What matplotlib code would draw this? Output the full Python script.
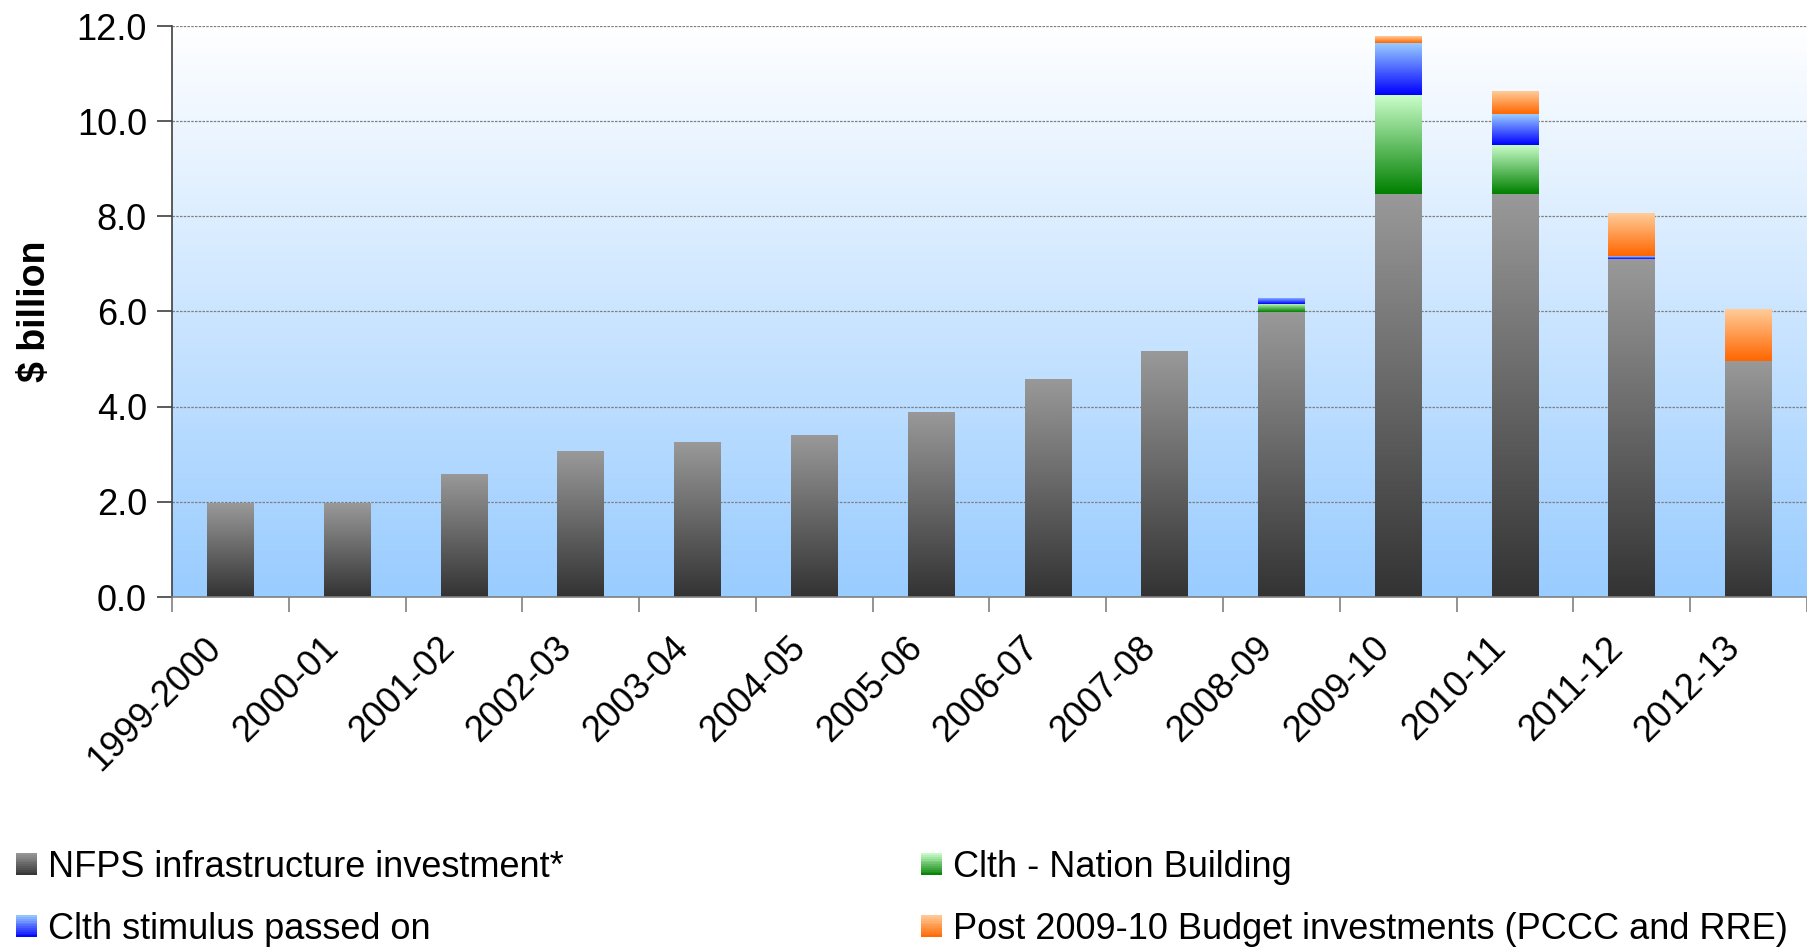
import numpy as np
import matplotlib
matplotlib.use("Agg")
import matplotlib.pyplot as plt
from matplotlib.colors import LinearSegmentedColormap, to_rgb
from matplotlib.patches import Rectangle
from matplotlib.legend_handler import HandlerBase
from matplotlib.transforms import ScaledTranslation

plt.rcParams['font.family'] = ['Liberation Sans', 'DejaVu Sans']

years = ["1999-2000", "2000-01", "2001-02", "2002-03", "2003-04", "2004-05",
         "2005-06", "2006-07", "2007-08", "2008-09", "2009-10", "2010-11",
         "2011-12", "2012-13"]
nfps = [1.97, 1.97, 2.59, 3.06, 3.25, 3.41, 3.89, 4.59, 5.17, 5.98, 8.47, 8.47, 7.10, 4.97]
nation_building = [0, 0, 0, 0, 0, 0, 0, 0, 0, 0.18, 2.09, 1.03, 0, 0]
stimulus = [0, 0, 0, 0, 0, 0, 0, 0, 0, 0.13, 1.08, 0.65, 0.06, 0]
post_budget = [0, 0, 0, 0, 0, 0, 0, 0, 0, 0, 0.14, 0.48, 0.90, 1.09]

series = [
    ("NFPS infrastructure investment*", nfps, "#999999", "#333333"),
    ("Clth - Nation Building", nation_building, "#ccffcc", "#008000"),
    ("Clth stimulus passed on", stimulus, "#99ccff", "#0000ff"),
    ("Post 2009-10 Budget investments (PCCC and RRE)", post_budget, "#ffcc99", "#ff6600"),
]

FS = 26
W, H = 1807, 947
fig = plt.figure(figsize=(W / 100, H / 100), dpi=100)
ax = fig.add_axes([172 / W, 1 - 597 / H, 1 - 172 / W, (597 - 26) / H])

# background gradient, white at top to light blue at bottom
bg = LinearSegmentedColormap.from_list("bg", ["#99ccff", "#ffffff"])
ax.imshow(np.linspace(0, 1, 256).reshape(-1, 1), cmap=bg, origin="lower",
          extent=(0, 1, 0, 1), transform=ax.transAxes, aspect="auto", zorder=0)

x = np.arange(len(years))
bottom = np.zeros(len(years))
for name, vals, top_c, bot_c in series:
    vals = np.array(vals, dtype=float)
    bars = ax.bar(x, vals, 0.4, bottom=bottom, color="none", linewidth=0, zorder=3)
    cm = LinearSegmentedColormap.from_list(name, [bot_c, top_c])
    for p, v in zip(bars.patches, vals):
        if v <= 0:
            continue
        im = ax.imshow(np.linspace(0, 1, 128).reshape(-1, 1), cmap=cm, origin="lower",
                       extent=(p.get_x(), p.get_x() + p.get_width(),
                               p.get_y(), p.get_y() + p.get_height()),
                       aspect="auto", zorder=3, interpolation="bilinear")
        im.set_clip_path(p)
    bottom += vals

ax.set_xlim(-0.5, len(years) - 0.5)
ax.set_ylim(0, 12)
ax.set_yticks(np.arange(0, 12.1, 2))
ax.set_yticklabels([f"{v:.1f}" for v in np.arange(0, 12.1, 2)])
ax.yaxis.grid(True, color="#7f7f7f", linestyle=(0, (2, 1)), linewidth=0.9, zorder=1)
ax.set_axisbelow(True)

ax.set_xticks(np.arange(len(years) + 1) - 0.5)
ax.set_xticklabels([])
ax.set_xticks(x, years, minor=True)
ax.tick_params(axis="x", which="major", length=11, width=1.2, color="#808080")
ax.tick_params(axis="x", which="minor", length=0, pad=24, labelsize=FS)
ax.tick_params(axis="y", length=11, width=1.2, color="#404040", pad=7, labelsize=FS)
off = ScaledTranslation(-2 / 100, 0, fig.dpi_scale_trans)
for lab in ax.get_xticklabels(minor=True):
    lab.set_rotation(45)
    lab.set_ha("right")
    lab.set_va("top")
    lab.set_transform(lab.get_transform() + off)

for s in ["top", "right"]:
    ax.spines[s].set_visible(False)
ax.spines["left"].set_color("#404040")
ax.spines["left"].set_linewidth(1.2)
ax.spines["bottom"].set_color("#808080")
ax.spines["bottom"].set_linewidth(1.2)
ax.spines["left"].set_zorder(5)
ax.spines["bottom"].set_zorder(5)

ax.set_ylabel("$ billion", fontsize=27, fontweight="bold")
ax.yaxis.set_label_coords((53 - 172) / (W - 172), 0.5)


class GradientHandler(HandlerBase):
    def __init__(self, top_c, bot_c):
        super().__init__()
        self.top_c = np.array(to_rgb(top_c))
        self.bot_c = np.array(to_rgb(bot_c))

    def create_artists(self, legend, orig_handle, xdescent, ydescent, width,
                       height, fontsize, trans):
        n = 12
        arts = []
        for i in range(n):
            t = (i + 0.5) / n
            c = self.bot_c + (self.top_c - self.bot_c) * t
            r = Rectangle((-xdescent, -ydescent + height * i / n), width, height / n + 0.01,
                          facecolor=c, edgecolor="none", transform=trans)
            arts.append(r)
        return arts


handles = [Rectangle((0, 0), 1, 1) for _ in series]
hmap = {h: GradientHandler(s[2], s[3]) for h, s in zip(handles, series)}
kw = dict(loc="upper left", frameon=False, fontsize=FS, borderpad=0, borderaxespad=0,
          handlelength=21 / 36, handleheight=20 / 36, handletextpad=11 / 36, labelspacing=0.75)
# left column: NFPS + stimulus, right column: nation building + post budget
fig.legend([handles[0], handles[2]], [series[0][0], series[2][0]], handler_map=hmap,
           bbox_to_anchor=(16 / W, 1 - 850 / H), **kw)
fig.legend([handles[1], handles[3]], [series[1][0], series[3][0]], handler_map=hmap,
           bbox_to_anchor=(921 / W, 1 - 850 / H), **kw)

fig.savefig("out.png", dpi=100)
